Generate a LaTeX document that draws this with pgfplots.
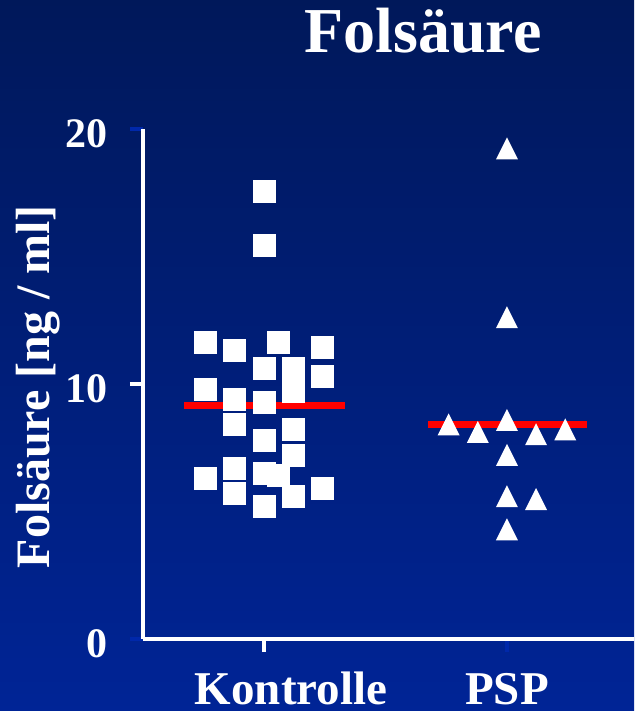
\documentclass[border=0pt]{standalone}
\usepackage{pgfplots}
\pgfplotsset{compat=1.18}
\usepackage{fontspec}
\setmainfont{Liberation Serif}
\definecolor{bgtop}{RGB}{0,24,90}
\definecolor{bgbot}{RGB}{0,36,150}
\definecolor{tickblue}{RGB}{0,40,170}
\pgfdeclareplotmark{tri}{%
  \pgfpathmoveto{\pgfqpoint{0pt}{5.5pt}}%
  \pgfpathlineto{\pgfqpoint{-5.5pt}{-5.5pt}}%
  \pgfpathlineto{\pgfqpoint{5.5pt}{-5.5pt}}%
  \pgfpathclose\pgfusepathqfill}
\begin{document}
\begin{tikzpicture}
\useasboundingbox (0,0) rectangle (317pt,355.5pt);
\shade[top color=bgtop, bottom color=bgbot] (0,0) rectangle (317pt,355.5pt);
\begin{axis}[
  at={(71.5pt,36pt)}, anchor=south west,
  scale only axis, width=245.5pt, height=255pt,
  xmin=0.502, xmax=2.523, ymin=0, ymax=20,
  clip=false,
  axis lines=left,
  axis line style={-, white, line width=1.6pt},
  tick align=outside,
  major tick length=6.5pt,
  tick style={tickblue, line width=1.6pt},
  ytick={0,20},
  extra y ticks={10},
  extra y tick style={tick style={white, line width=1.6pt}},
  xtick={2}, xticklabels={PSP},
  extra x ticks={1}, extra x tick labels={\hspace*{27pt}Kontrolle},
  extra x tick style={tick style={white, line width=1.6pt}},
  /pgf/number format/assume math mode=true,
  ticklabel style={white, font=\bfseries\fontsize{21}{21}\selectfont},
  xticklabel style={font=\bfseries\fontsize{23.5}{23.5}\selectfont, anchor=base, inner sep=0pt, yshift=-26pt},
  yticklabel style={xshift=-7.5pt, yshift=-2.5pt},
  ylabel={Folsäure [ng / ml]},
  ylabel style={white, font=\bfseries\fontsize{24}{24}\selectfont, at={(axis description cs:-0.214,0.495)}, anchor=center},
  title={Folsäure},
  title style={white, font=\bfseries\fontsize{32}{32}\selectfont, at={(axis description cs:0.570,1.127)}, anchor=base},
]
\addplot[red, line width=3.5pt, no marks] coordinates {(0.671,9.15) (1.333,9.15)};
\addplot[red, line width=3.5pt, no marks] coordinates {(1.675,8.43) (2.329,8.43)};
\addplot[only marks, mark=square*, mark size=5.5pt, white, mark options={draw=white, fill=white}] coordinates {
(1,17.54) (1,15.44) (0.76,11.62) (0.88,11.31) (1.06,11.62) (1.24,11.42)
(1,10.60) (1.12,10.61) (1.12,9.70) (1.24,10.31) (0.76,9.80) (0.88,9.41)
(1,9.28) (0.88,8.42) (1,7.80) (1.12,8.22) (1.12,7.20) (0.76,6.30)
(0.88,6.69) (1,6.50) (1.06,6.41) (0.88,5.70) (1.12,5.58) (1.24,5.89) (1,5.19)
};
\addplot[only marks, mark=tri, white] coordinates {
(2,19.24) (2,12.62) (1.76,8.42) (1.88,8.12) (2,8.59) (2.12,8.03)
(2.24,8.22) (2,7.22) (2,5.60) (2.12,5.49) (2,4.30)
};
\end{axis}
\end{tikzpicture}
\end{document}
